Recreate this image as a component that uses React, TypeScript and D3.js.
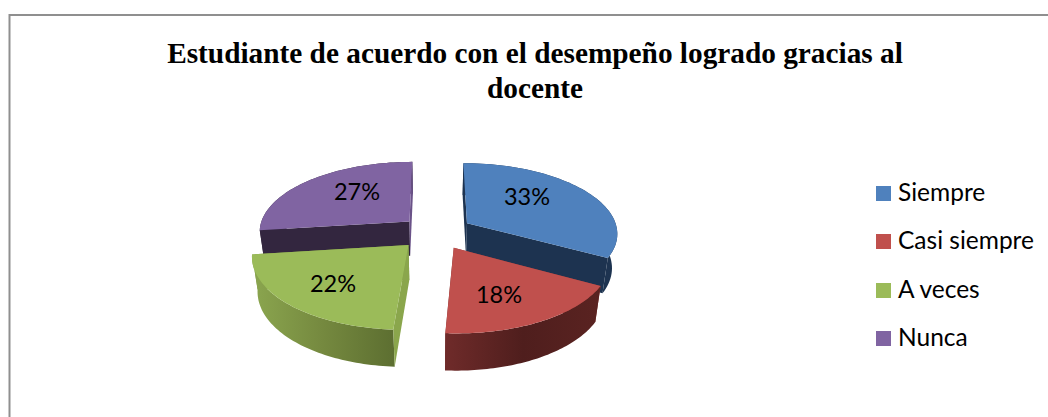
import React from "react";
import * as d3 from "d3";

const categories = ["Siempre", "Casi siempre", "A veces", "Nunca"];
const values = [33, 18, 22, 27];
const topColors = ["#4f81bd", "#c0504d", "#9bbb59", "#8064a2"];
const wallStops = [
  ["#1d3350", "#1d3350", "#1d3350"],
  ["#6f2b2a", "#4f1e1d", "#5a2321"],
  ["#8ba64f", "#75893f", "#5d6f31"],
  ["#33263f", "#33263f", "#33263f"],
];
const radialColors = [
  ["#1d3350", "#1d3350"],
  ["#8c3a38", "#6f2b2a"],
  ["#8aa64c", "#7f9a46"],
  ["#33263f", "#6a5288"],
];
const hiddenWall = [-1, 0, 1, -1];
const titleLines = ["Estudiante de acuerdo con el desempeño logrado gracias al", "docente"];
const labelPositions: [number, number][] = [[527, 205], [499, 303], [333, 292], [357, 200]];
const explodeBySlice = [0.25, 0.25, 0.25, 0.23];

const cx = 435, cy = 232, R = 151, Ry = 70, k = 0.13, H = 35.5, m = 0.03;

function project(u: number, v: number, z: number): [number, number] {
  const w = 1 / (1 + k * v + m * z);
  return [cx + R * u * w, cy - Ry * v * w + H * z * w];
}

const arcs = d3.pie<number>().sort(null)(values);
const line = d3.line();

function sliceGeometry(i: number) {
  const a = arcs[i];
  const mid = (a.startAngle + a.endAngle) / 2;
  const ou = explodeBySlice[i] * Math.sin(mid), ov = explodeBySlice[i] * Math.cos(mid);
  const angles = d3.range(0, 61).map((t) => a.startAngle + ((a.endAngle - a.startAngle) * t) / 60);
  const rim = (z: number) => angles.map((t) => project(ou + Math.sin(t), ov + Math.cos(t), z));
  const apex = (z: number) => project(ou, ov, z);
  return { rim, apex };
}

const order = [3, 0, 2, 1];

export default function App() {
  return (
    <svg width={1048} height={417} style={{ position: "absolute", left: 0, top: 0, background: "#fff" }}>
      <defs>
        {order.map((i) => {
          const r = sliceGeometry(i).rim(0);
          const [x0, x1] = d3.extent(r, (p) => p[0]) as [number, number];
          return (
            <linearGradient key={i} id={`wall${i}`} gradientUnits="userSpaceOnUse" x1={x0} x2={x1} y1={0} y2={0}>
              {wallStops[i].map((c, j) => (
                <stop key={j} offset={j / 2} stopColor={c} />
              ))}
            </linearGradient>
          );
        })}
      </defs>
      <path d="M1048 15H9.5V417" fill="none" stroke="#8f8f8f" strokeWidth={2} />
      {titleLines.map((t, i) => (
        <text key={t} x={535} y={62.5 + i * 35} textAnchor="middle" fontFamily="'Liberation Serif'" fontWeight="bold" fontSize={29.3} fill="#000">
          {t}
        </text>
      ))}
      {order.map((i) => {
        const g = sliceGeometry(i);
        const top = g.rim(0), bottom = g.rim(1);
        const a0 = g.apex(0), a1 = g.apex(1);
        const n = top.length - 1;
        const wall = (end: number) => (
          <path
            d={line([a0, top[end === 0 ? 0 : n], bottom[end === 0 ? 0 : n], a1])! + "Z"}
            fill={radialColors[i][end]}
          />
        );
        return (
          <g key={i}>
            {hiddenWall[i] >= 0 && wall(hiddenWall[i])}
            <path d={line([...top, ...bottom.slice().reverse()])! + "Z"} fill={`url(#wall${i})`} />
            {hiddenWall[i] !== 0 && wall(0)}
            {hiddenWall[i] !== 1 && wall(1)}
            <path d={line([a0, ...top])! + "Z"} fill={topColors[i]} />
          </g>
        );
      })}
      {values.map((v, i) => (
        <text key={i} x={labelPositions[i][0]} y={labelPositions[i][1]} textAnchor="middle" fontFamily="Lato" fontSize={23.5} fill="#000">
          {v}%
        </text>
      ))}
      {categories.map((c, i) => {
        const y = 186 + Math.round(i * 48.3);
        return (
          <g key={c}>
            <rect x={876} y={y} width={15} height={15} fill={topColors[i]} />
            <text x={898} y={y + 15} fontFamily="Lato" fontSize={24.5} fill="#000">
              {c}
            </text>
          </g>
        );
      })}
    </svg>
  );
}
